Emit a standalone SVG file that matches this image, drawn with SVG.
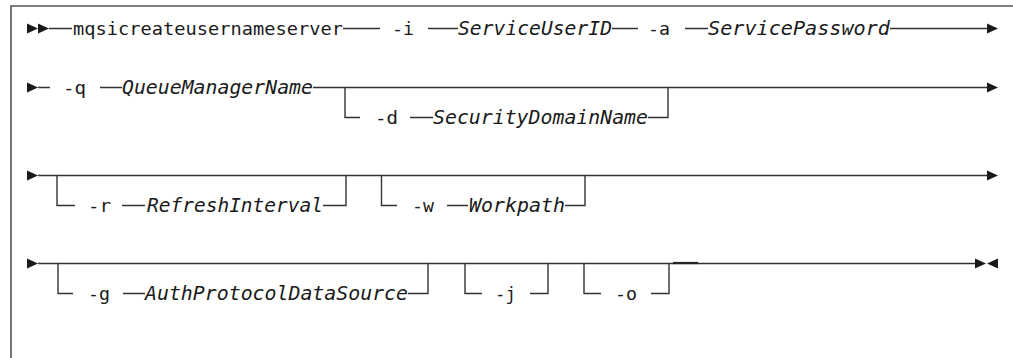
<svg xmlns="http://www.w3.org/2000/svg" width="1013" height="358" viewBox="0 0 1013 358">
<style>
.t{font-family:"DejaVu Sans Mono","Liberation Mono",monospace;font-size:18.5px;fill:#1a1a1a}
.v{font-family:"DejaVu Sans Mono","Liberation Mono",monospace;font-size:19.5px;font-style:italic;fill:#1a1a1a}
.c{fill:none;stroke:#333;stroke-width:1.4}
.a{fill:#1a1a1a}
</style>
<rect width="1013" height="358" fill="#fff"/>
<path d="M11,358 V6 H1013" fill="none" stroke="#555" stroke-width="1.6"/>
<g id="connectors">
<path class="c" d="M49,28.5 H72 M343,28.5 H380 M428,28.5 H458 M612,28.5 H638 M685,28.5 H708 M890,28.5 H988"/>
<path class="a" d="M27,23.5 L38,28.5 L27,33.5 Z M38,23.5 L49,28.5 L38,33.5 Z M987,23.5 L998,28.5 L987,33.5 Z"/>
<path class="c" d="M38,87.5 H50 M100,87.5 H122 M313,87.5 H988"/>
<path class="c" d="M345,87.5 V117.5 H360 M410,117.5 H433 M648,117.5 H668 V87.5"/>
<path class="a" d="M27,82.5 L38,87.5 L27,92.5 Z M987,82.5 L998,87.5 L987,92.5 Z"/>
<path class="c" d="M38,175.5 H988"/>
<path class="c" d="M57,175.5 V205.5 H75 M122,205.5 H145 M323,205.5 H346 V175.5"/>
<path class="c" d="M381.5,175.5 V205.5 H397 M447,205.5 H468 M565,205.5 H585 V175.5"/>
<path class="a" d="M27,170.5 L38,175.5 L27,180.5 Z M987,170.5 L998,175.5 L987,180.5 Z"/>
<path class="c" d="M38,263.5 H976"/>
<path class="c" d="M58,263.5 V293.5 H73 M123,293.5 H145 M408,293.5 H428 V263.5"/>
<path class="c" d="M465,263.5 V293.5 H482 M530,293.5 H548 V263.5"/>
<path class="c" d="M584,263.5 V293.5 H601 M651,293.5 H669 V263.5"/>
<path d="M673,263 H698" stroke="#222" stroke-width="2.2"/>
<path class="a" d="M27,258.5 L38,263.5 L27,268.5 Z M975,258.5 L986,263.5 L975,268.5 Z M998,258.5 L987,263.5 L998,268.5 Z"/>
</g>
<g id="cmd"><text class="t" x="73" y="35" textLength="270" lengthAdjust="spacingAndGlyphs">mqsicreateusernameserver</text></g>
<g id="opt-i"><text class="t" x="392" y="35" textLength="22" lengthAdjust="spacingAndGlyphs">-i</text><text class="v" x="458" y="35" textLength="154" lengthAdjust="spacingAndGlyphs">ServiceUserID</text></g>
<g id="opt-a"><text class="t" x="648" y="35" textLength="22" lengthAdjust="spacingAndGlyphs">-a</text><text class="v" x="708" y="35" textLength="182" lengthAdjust="spacingAndGlyphs">ServicePassword</text></g>
<g id="opt-q"><text class="t" x="63" y="94" textLength="23" lengthAdjust="spacingAndGlyphs">-q</text><text class="v" x="122" y="94" textLength="191" lengthAdjust="spacingAndGlyphs">QueueManagerName</text></g>
<g id="opt-d"><text class="t" x="375" y="124" textLength="23" lengthAdjust="spacingAndGlyphs">-d</text><text class="v" x="433" y="124" textLength="215" lengthAdjust="spacingAndGlyphs">SecurityDomainName</text></g>
<g id="opt-r"><text class="t" x="88" y="212" textLength="23" lengthAdjust="spacingAndGlyphs">-r</text><text class="v" x="147" y="212" textLength="176" lengthAdjust="spacingAndGlyphs">RefreshInterval</text></g>
<g id="opt-w"><text class="t" x="412" y="212" textLength="22" lengthAdjust="spacingAndGlyphs">-w</text><text class="v" x="469" y="212" textLength="96" lengthAdjust="spacingAndGlyphs">Workpath</text></g>
<g id="opt-g"><text class="t" x="88" y="300" textLength="22" lengthAdjust="spacingAndGlyphs">-g</text><text class="v" x="145" y="300" textLength="263" lengthAdjust="spacingAndGlyphs">AuthProtocolDataSource</text></g>
<g id="opt-j"><text class="t" x="495" y="300" textLength="21" lengthAdjust="spacingAndGlyphs">-j</text></g>
<g id="opt-o"><text class="t" x="615" y="300" textLength="22" lengthAdjust="spacingAndGlyphs">-o</text></g>
</svg>
